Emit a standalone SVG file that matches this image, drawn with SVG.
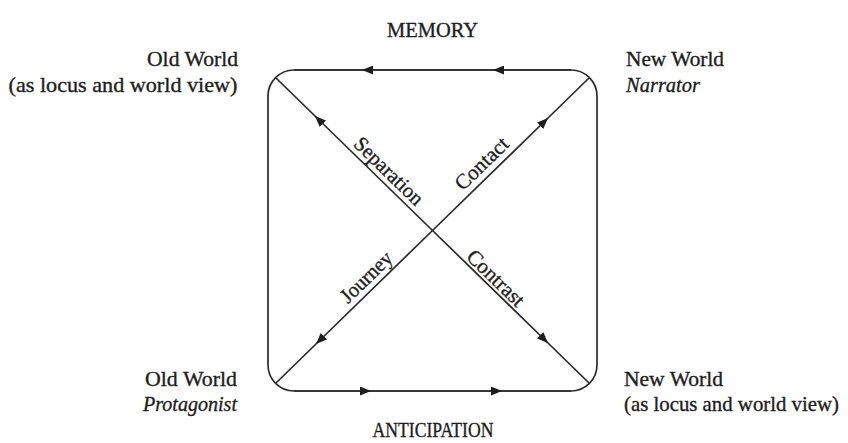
<svg xmlns="http://www.w3.org/2000/svg" width="848" height="443" viewBox="0 0 848 443">
<defs>
<style>
text{font-family:"Liberation Serif","Times New Roman",serif;font-size:21px;fill:#1e1e1e;stroke:#1e1e1e;stroke-width:0.35}
.it{font-style:italic}
.ln{fill:none;stroke:#2a2a2a;stroke-width:1.7}
.ar{fill:none;stroke:#2a2a2a;stroke-width:1.7;marker-mid:url(#ah)}
</style>
<marker id="ah" markerUnits="userSpaceOnUse" viewBox="0 0 11 9" refX="11" refY="4.5" markerWidth="11" markerHeight="9" orient="auto">
<path d="M0,0 L11,4.5 L0,9 Z" fill="#1e1e1e"/>
</marker>
</defs>
<rect width="848" height="443" fill="#ffffff"/>
<g id="connectors">
<rect class="ln" x="268" y="70" width="329" height="321" rx="26" ry="26"/>
<path class="ar" d="M 571 70 L 493 70 L 362 70 L 294 70"/>
<path class="ar" d="M 294 391 L 371 391 L 502 391 L 571 391"/>
<path class="ar" d="M 432.5 230.5 L 315 116 L 276 78"/>
<path class="ar" d="M 432.5 230.5 L 548 343 L 589 383"/>
<path class="ar" d="M 432.5 230.5 L 548 118 L 589 78"/>
<path class="ar" d="M 432.5 230.5 L 316 344 L 276 383"/>
<text transform="rotate(44.25 384 176)" x="384" y="176" text-anchor="middle" textLength="88" lengthAdjust="spacingAndGlyphs">Separation</text>
<text transform="rotate(-44.25 486.5 168.5)" x="486.5" y="168.5" text-anchor="middle" textLength="66" lengthAdjust="spacingAndGlyphs">Contact</text>
<text transform="rotate(-44.25 371 282)" x="371" y="282" text-anchor="middle" textLength="64" lengthAdjust="spacingAndGlyphs">Journey</text>
<text transform="rotate(44.25 491 283)" x="491" y="283" text-anchor="middle" textLength="72" lengthAdjust="spacingAndGlyphs">Contrast</text>
</g>
<g id="memory">
<text x="432.5" y="36.5" text-anchor="middle" textLength="91" lengthAdjust="spacingAndGlyphs">MEMORY</text>
</g>
<g id="anticipation">
<text x="433" y="437" text-anchor="middle" textLength="121" lengthAdjust="spacingAndGlyphs">ANTICIPATION</text>
</g>
<g id="old-world-locus">
<text x="238" y="65.5" text-anchor="end" textLength="91" lengthAdjust="spacingAndGlyphs">Old World</text>
<text x="237.5" y="92" text-anchor="end" textLength="229" lengthAdjust="spacingAndGlyphs">(as locus and world view)</text>
</g>
<g id="new-world-narrator">
<text x="626" y="65.5" textLength="98" lengthAdjust="spacingAndGlyphs">New World</text>
<text class="it" x="626" y="92" textLength="74" lengthAdjust="spacingAndGlyphs">Narrator</text>
</g>
<g id="old-world-protagonist">
<text x="237" y="386" text-anchor="end" textLength="92" lengthAdjust="spacingAndGlyphs">Old World</text>
<text class="it" x="237" y="411" text-anchor="end" textLength="94" lengthAdjust="spacingAndGlyphs">Protagonist</text>
</g>
<g id="new-world-locus">
<text x="624" y="386" textLength="99" lengthAdjust="spacingAndGlyphs">New World</text>
<text x="624" y="411" textLength="215" lengthAdjust="spacingAndGlyphs">(as locus and world view)</text>
</g>
</svg>
